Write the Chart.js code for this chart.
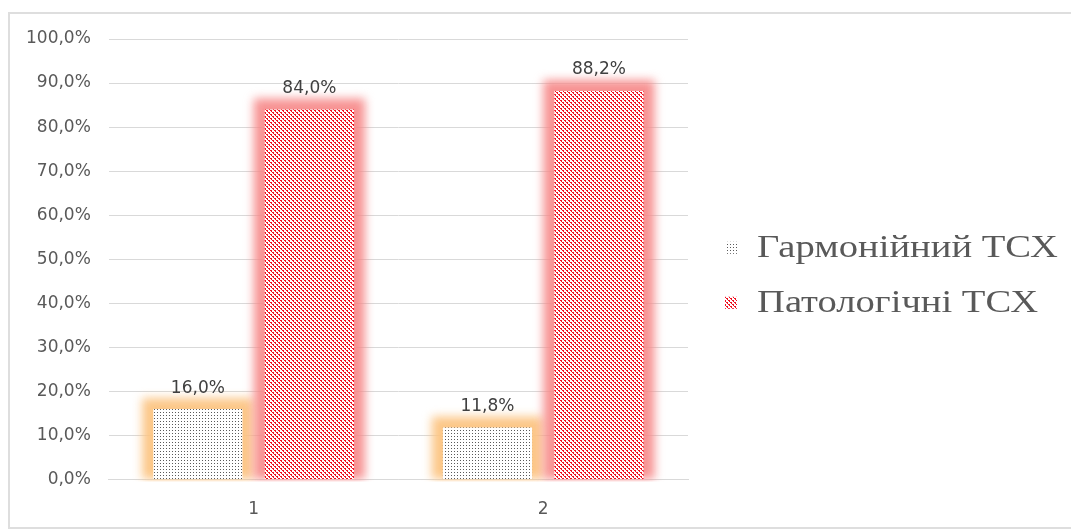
<!DOCTYPE html>
<html>
<head>
<meta charset="utf-8">
<script src="https://cdn.jsdelivr.net/npm/chart.js@4.4.1/dist/chart.umd.min.js"></script>
<style>
  html, body { margin: 0; padding: 0; background: #fff; }
  #wrap { position: relative; width: 1071px; height: 532px; }
  #frame { position: absolute; left: 8px; top: 12px; width: 1100px; height: 517px; border: 2px solid #dedede; box-sizing: border-box; }
  canvas { position: absolute; left: 0; top: 0; }
</style>
</head>
<body>
<div id="wrap">
  <div id="frame"></div>
  <canvas id="chart" width="1071" height="532"></canvas>
</div>
<script>
const categories = ["1", "2"]
const harmonious = [16.0, 11.8]
const pathological = [84.0, 88.2]
const seriesNames = ["Гармонійний ТСХ", "Патологічні ТСХ"]
const glowColors = ["rgba(252, 196, 130, 0.95)", "rgba(246, 135, 135, 0.9)"]

function makePattern(kind) {
    const c = document.createElement("canvas")
    const g = c.getContext("2d")
    if (kind === "gray") {
        c.width = 3; c.height = 3
        g.fillStyle = "#ffffff"
        g.fillRect(0, 0, 3, 3)
        g.fillStyle = "#5a5a5a"
        g.fillRect(1, 1, 1, 1)
    } else {
        c.width = 4; c.height = 4
        g.fillStyle = "#ffffff"
        g.fillRect(0, 0, 4, 4)
        g.fillStyle = "#f01020"
        g.fillRect(0, 0, 2, 1)
        g.fillRect(2, 2, 2, 1)
        g.fillRect(1, 1, 1, 1)
        g.fillRect(3, 3, 1, 1)
    }
    return g.createPattern(c, "repeat")
}

const fmt = v => v.toFixed(1).replace(".", ",") + "%"

// soft glow behind each bar
const glowPlugin = {
    id: "glow",
    beforeDatasetsDraw(chart) {
        const ctx = chart.ctx
        const area = chart.chartArea
        chart.data.datasets.forEach((ds, i) => {
            chart.getDatasetMeta(i).data.forEach(bar => {
                const p = bar.getProps(["x", "y", "base", "width"], true)
                ctx.save()
                ctx.beginPath()
                ctx.rect(area.left, area.top - 30, area.right - area.left, area.bottom - area.top + 32)
                ctx.clip()
                ctx.filter = "blur(5px)"
                ctx.fillStyle = glowColors[i]
                ctx.fillRect(p.x - p.width / 2 - 11, p.y - 11, p.width + 22, p.base - p.y + 11)
                ctx.restore()
            })
        })
    }
}

// value labels above bars
const labelPlugin = {
    id: "valueLabels",
    afterDatasetsDraw(chart) {
        const ctx = chart.ctx
        ctx.save()
        ctx.font = "17px 'DejaVu Sans'"
        ctx.fillStyle = "#404040"
        ctx.textAlign = "center"
        ctx.textBaseline = "middle"
        chart.data.datasets.forEach((ds, i) => {
            chart.getDatasetMeta(i).data.forEach((bar, j) => {
                ctx.fillText(fmt(ds.data[j]), bar.x, bar.y - 21)
            })
        })
        ctx.restore()
    }
}

// legend on the right, stretched serif text like the original
const legendPlugin = {
    id: "sideLegend",
    afterDraw(chart) {
        const ctx = chart.ctx
        const area = chart.chartArea
        const x0 = area.right + 37
        const yMid = (area.top + area.bottom) / 2 + 16
        ctx.save()
        ctx.font = "31px 'Liberation Serif'"
        const sx = 301 / ctx.measureText(seriesNames[0]).width
        chart.data.datasets.forEach((ds, i) => {
            const y = yMid + (i - 0.5) * 55
            ctx.fillStyle = ds.backgroundColor
            ctx.fillRect(x0, y - 6, 12, 12)
            ctx.save()
            ctx.translate(x0 + 32, y)
            ctx.scale(sx, 1)
            ctx.fillStyle = "#595959"
            ctx.textBaseline = "middle"
            ctx.fillText(ds.label, 0, 1)
            ctx.restore()
        })
        ctx.restore()
    }
}

window.onload = () => {
    const ctx = document.getElementById("chart")
    const fills = [makePattern("gray"), makePattern("red")]

    new Chart(ctx, {
        type: "bar",
        data: {
            labels: categories,
            datasets: [
                { label: seriesNames[0], data: harmonious, backgroundColor: fills[0] },
                { label: seriesNames[1], data: pathological, backgroundColor: fills[1] }
            ]
        },
        options: {
            responsive: false,
            animation: false,
            devicePixelRatio: 1,
            categoryPercentage: 0.77,
            barPercentage: 0.8,
            layout: { padding: { left: 8, top: 39, right: 383, bottom: 0 } },
            plugins: {
                tooltip: { enabled: false },
                legend: { display: false }
            },
            scales: {
                x: {
                    grid: { display: false },
                    border: { display: true, color: "#d9d9d9", width: 1 },
                    ticks: { font: { family: "'DejaVu Sans'", size: 17 }, color: "#595959", padding: 12 }
                },
                y: {
                    min: 0,
                    max: 100,
                    ticks: {
                        stepSize: 10,
                        font: { family: "'DejaVu Sans'", size: 17 },
                        color: "#595959",
                        padding: 18,
                        callback: v => fmt(v)
                    },
                    grid: { color: "#d9d9d9", drawTicks: false },
                    border: { display: false }
                }
            }
        },
        plugins: [glowPlugin, labelPlugin, legendPlugin]
    })
}
</script>
</body>
</html>
